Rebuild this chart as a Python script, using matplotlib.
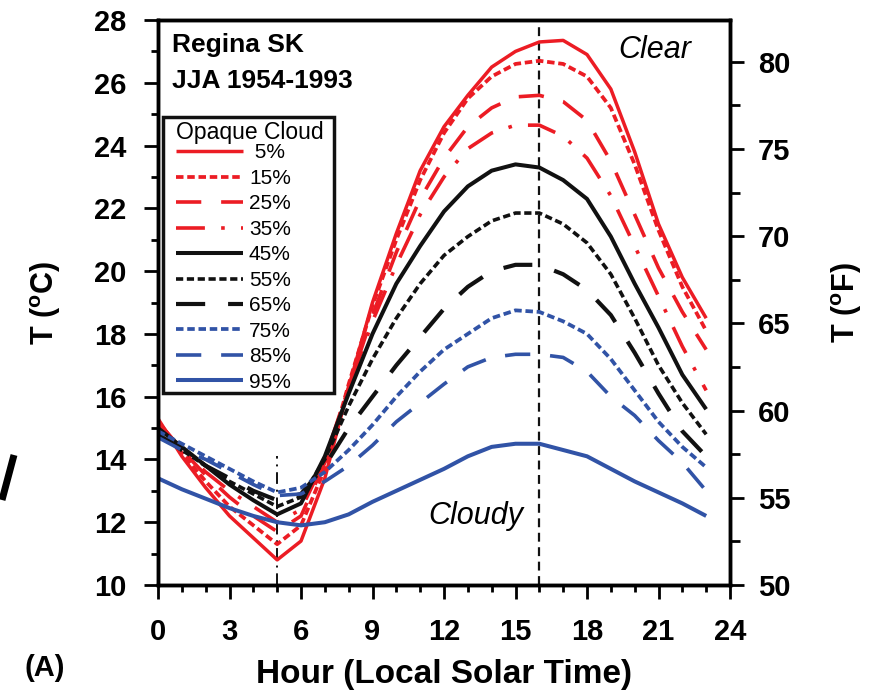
import matplotlib
matplotlib.use('Agg')
import matplotlib.pyplot as plt
from matplotlib.lines import Line2D
from matplotlib.patches import Rectangle
from matplotlib.ticker import MultipleLocator

plt.rcParams['font.family'] = ['Liberation Sans', 'DejaVu Sans']
plt.rcParams['mathtext.fontset'] = 'custom'
plt.rcParams['mathtext.rm'] = 'Liberation Sans'
plt.rcParams['mathtext.bf'] = 'Liberation Sans:bold'

# hourly mean temperature (deg C) by opaque cloud amount, Regina SK, JJA 1954-1993
hours = list(range(24))
cloud_05 = [15.3, 14.1, 13.1, 12.2, 11.5, 10.8, 11.4, 13.4, 16.3, 19.0, 21.2, 23.2,
            24.6, 25.6, 26.5, 27.0, 27.3, 27.35, 26.9, 25.8, 23.8, 21.5, 19.8, 18.5]
cloud_15 = [15.2, 14.2, 13.3, 12.5, 11.9, 11.3, 11.9, 13.7, 16.4, 18.9, 21.0, 22.9,
            24.4, 25.5, 26.2, 26.6, 26.7, 26.6, 26.2, 25.2, 23.4, 21.3, 19.5, 18.1]
cloud_25 = [15.2, 14.3, 13.5, 12.8, 12.2, 11.7, 12.2, 13.9, 16.3, 18.6, 20.6, 22.3,
            23.6, 24.6, 25.2, 25.55, 25.6, 25.4, 24.8, 23.5, 21.8, 20.1, 18.7, 17.5]
cloud_35 = [15.2, 14.3, 13.6, 13.0, 12.5, 12.0, 12.4, 14.0, 16.3, 18.4, 20.2, 21.8,
            23.0, 23.9, 24.4, 24.65, 24.65, 24.3, 23.6, 22.4, 20.8, 19.2, 17.6, 16.2]
cloud_45 = [15.0, 14.4, 13.8, 13.2, 12.7, 12.25, 12.6, 14.1, 16.1, 18.0, 19.6, 20.8,
            21.9, 22.7, 23.2, 23.4, 23.3, 22.9, 22.3, 21.1, 19.6, 18.2, 16.7, 15.6]
cloud_55 = [14.9, 14.3, 13.8, 13.3, 12.9, 12.5, 12.8, 14.0, 15.7, 17.2, 18.5, 19.6,
            20.5, 21.1, 21.6, 21.85, 21.85, 21.5, 20.9, 19.9, 18.5, 17.0, 15.8, 14.8]
cloud_65 = [14.8, 14.3, 13.8, 13.4, 13.0, 12.7, 12.9, 13.8, 15.0, 16.0, 17.0, 17.9,
            18.8, 19.5, 20.0, 20.2, 20.2, 19.9, 19.4, 18.6, 17.4, 16.1, 14.9, 14.1]
cloud_75 = [14.9, 14.5, 14.1, 13.7, 13.3, 12.95, 13.1, 13.6, 14.3, 15.1, 16.0, 16.8,
            17.5, 18.0, 18.5, 18.75, 18.7, 18.4, 18.0, 17.2, 16.2, 15.2, 14.4, 13.75]
cloud_85 = [14.7, 14.3, 14.0, 13.6, 13.2, 12.85, 12.9, 13.3, 13.8, 14.45, 15.2, 15.8,
            16.4, 16.95, 17.25, 17.35, 17.35, 17.25, 16.8, 16.0, 15.4, 14.6, 13.9, 13.0]
cloud_95 = [13.4, 13.05, 12.75, 12.45, 12.2, 12.0, 11.9, 12.0, 12.25, 12.65, 13.0, 13.35,
            13.7, 14.1, 14.4, 14.5, 14.5, 14.3, 14.1, 13.7, 13.3, 12.95, 12.6, 12.2]

labels = [' 5%', '15%', '25%', '35%', '45%', '55%', '65%', '75%', '85%', '95%']
series = [cloud_05, cloud_15, cloud_25, cloud_35, cloud_45,
          cloud_55, cloud_65, cloud_75, cloud_85, cloud_95]

RED = '#ec1c24'
BLACK = '#111111'
BLUE = '#3153a6'
colors = [RED, RED, RED, RED, BLACK, BLACK, BLACK, BLUE, BLUE, BLUE]
# dash patterns (None = solid), scaled by line width
dashes = [None, (2.0, 1.0), (7, 5.5), (8, 4.5, 1, 4.5), None,
          (2.0, 1.0), (7, 5.5), (2.0, 1.0), (7, 5.5), None]
widths = [2.5, 2.7, 2.6, 2.6, 2.9, 2.6, 3.0, 2.7, 2.6, 2.9]

fig = plt.figure(figsize=(8.8, 6.91), dpi=100)
ax = fig.add_axes([158 / 880, 1 - 585 / 691, (730 - 158) / 880, (585 - 20) / 691])

for vals, lab, c, d, w in zip(series, labels, colors, dashes, widths):
    line, = ax.plot(hours, vals, color=c, lw=w, label=lab, solid_capstyle='butt')
    if d is not None:
        line.set_dashes(d)

# sunrise minimum and afternoon maximum markers
ax.plot([5, 5], [10, 14.1], color=BLACK, lw=1.4, dashes=(6, 3, 1, 3), zorder=1)
ax.axvline(16, color=BLACK, lw=1.6, dashes=(4, 2.5), zorder=1)

ax.set_xlim(0, 24)
ax.set_ylim(10, 28)
ax.xaxis.set_major_locator(MultipleLocator(3))
ax.xaxis.set_minor_locator(MultipleLocator(1))
ax.yaxis.set_major_locator(MultipleLocator(2))
ax.yaxis.set_minor_locator(MultipleLocator(1))
ax.tick_params(which='both', direction='out', width=2, top=False, right=False,
               labelsize=21)
ax.tick_params(axis='y', pad=13)
ax.tick_params(axis='x', pad=14)
ax.tick_params(which='major', length=10)
ax.tick_params(which='minor', length=5)
for lbl in ax.get_xticklabels() + ax.get_yticklabels():
    lbl.set_fontweight('bold')
for sp in ax.spines.values():
    sp.set_linewidth(2.5)

ax.set_xlabel('Hour (Local Solar Time)', fontsize=24, fontweight='bold', labelpad=9)
ax.set_ylabel(r'T ($^{\mathbf{o}}$C)', fontsize=22, fontweight='bold', labelpad=22)

# Fahrenheit scale on the right
ax2 = ax.twinx()
ax2.set_ylim(10 * 9 / 5 + 32, 28 * 9 / 5 + 32)
ax2.yaxis.set_major_locator(MultipleLocator(5))
ax2.yaxis.set_minor_locator(MultipleLocator(2.5))
ax2.tick_params(which='both', direction='out', width=2, labelsize=21, pad=10)
ax2.tick_params(which='major', length=10)
ax2.tick_params(which='minor', length=7)
for lbl in ax2.get_yticklabels():
    lbl.set_fontweight('bold')
for sp in ax2.spines.values():
    sp.set_linewidth(2.5)
ax2.set_ylabel(r'T ($^{\mathbf{o}}$F)', fontsize=22, fontweight='bold',
               rotation=90, labelpad=28)

ax.text(0.6, 27.2, 'Regina SK', fontsize=19, fontweight='bold', va='center')
ax.text(0.6, 26.05, 'JJA 1954-1993', fontsize=19, fontweight='bold', va='center')
ax.text(19.3, 27.05, 'Clear', fontsize=22, style='italic', va='center')
ax.text(13.35, 12.2, 'Cloudy', fontsize=22, style='italic', va='center', ha='center')

# legend: white box with heavy border, entries laid out inside it
box = Rectangle((5 / 572, 192 / 565), 171 / 572, 276 / 565, transform=ax.transAxes,
                facecolor='white', edgecolor=BLACK, lw=2.5, zorder=4)
ax.add_patch(box)
leg = ax.legend(loc='upper left', bbox_to_anchor=(18 / 572, 464.5 / 565), borderaxespad=0,
                title='Opaque Cloud', title_fontsize=16.5, fontsize=15,
                handlelength=3.2, handletextpad=0.3, labelspacing=0.31,
                borderpad=0, frameon=False)
leg.set_zorder(5)
leg._legend_box.align = 'left'
leg._legend_box.sep = 0

fig.text(45 / 880, 1 - 668 / 691, '(A)', fontsize=21, fontweight='bold',
         ha='center', va='center')
# edge of the neighbouring panel's lettering
fig.add_artist(Line2D([2 / 880, 14 / 880], [1 - 500 / 691, 1 - 455 / 691],
                      color='black', lw=5, solid_capstyle='butt'))

fig.savefig('out.png', dpi=100)
